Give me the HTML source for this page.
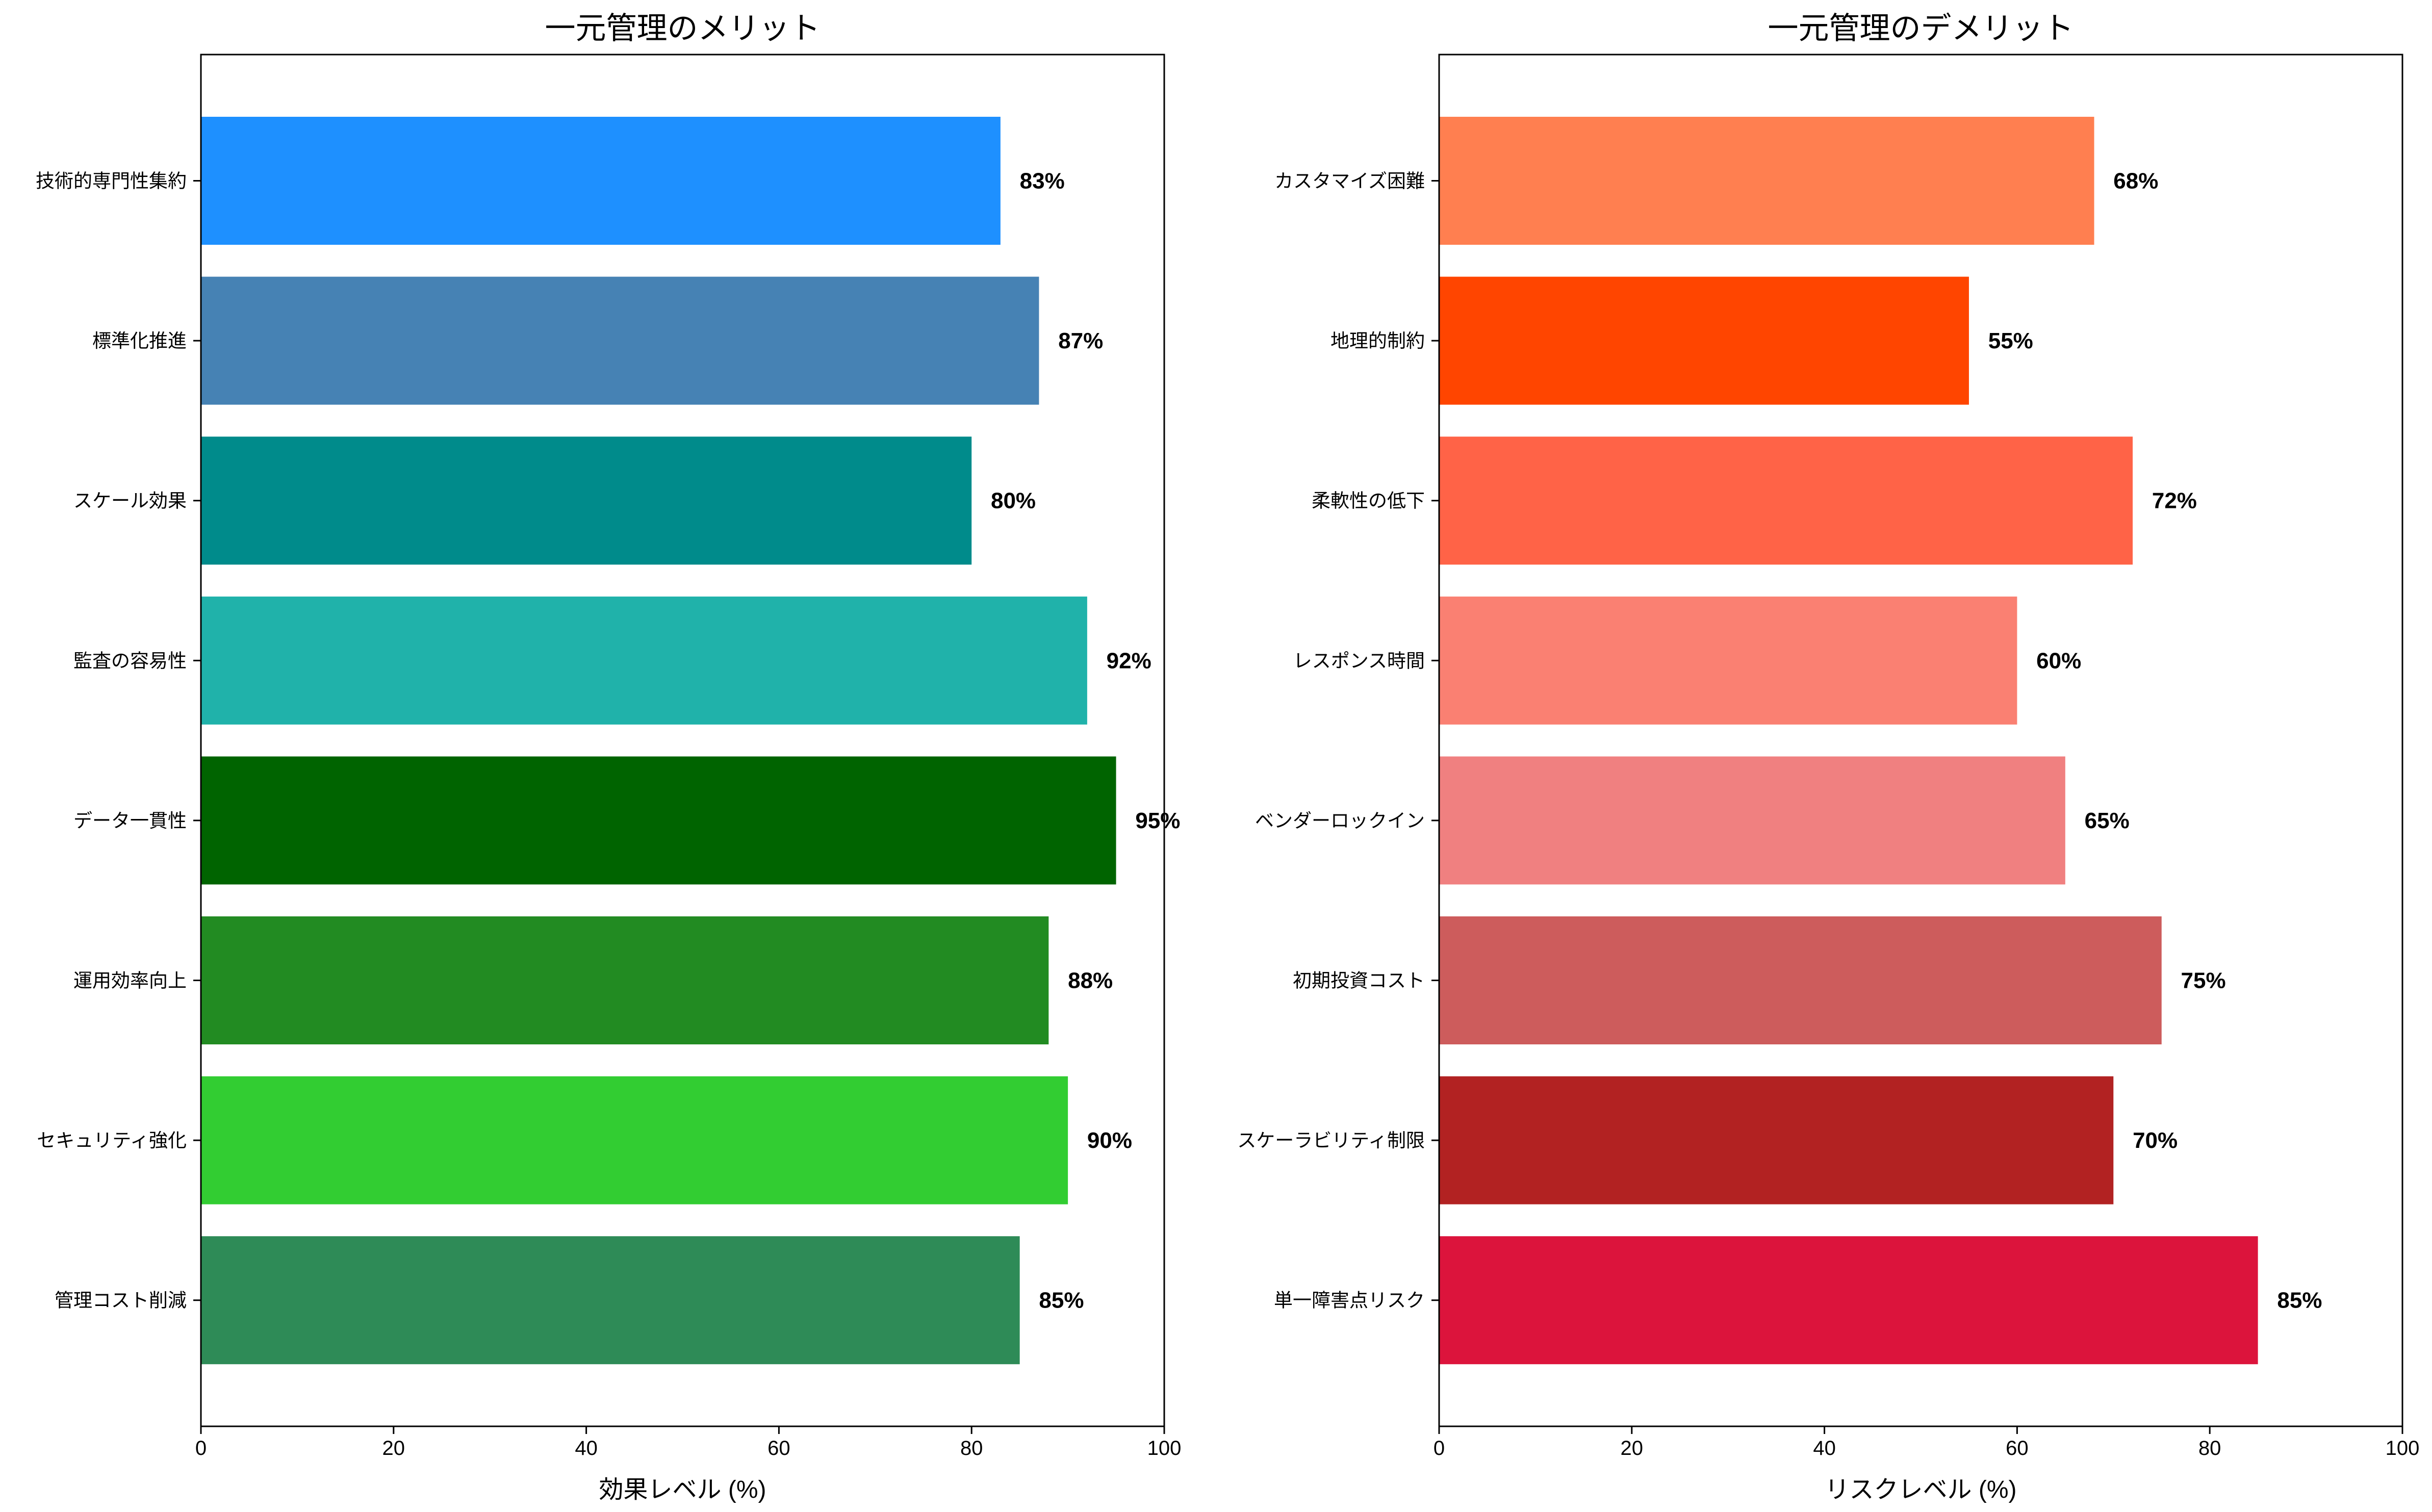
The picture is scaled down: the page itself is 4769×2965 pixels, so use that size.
<!DOCTYPE html>
<html><head><meta charset="utf-8"><style>
html,body{margin:0;padding:0;background:#fff;}
svg{display:block;font-family:"Liberation Sans","Noto Sans CJK JP",sans-serif;}
</style></head><body>
<svg id="chart" width="4769" height="2965" viewBox="0 0 4769 2965" xmlns="http://www.w3.org/2000/svg">
<rect width="4769" height="2965" fill="#fff"/>
<g id="left"></g>
<g id="right"></g>
</svg>
<script>
const meritCategories = ["管理コスト削減","セキュリティ強化","運用効率向上","データ一貫性","監査の容易性","スケール効果","標準化推進","技術的専門性集約"];
const meritValues = [85, 90, 88, 95, 92, 80, 87, 83];
const meritColors = ["#2e8b57","#32cd32","#228b22","#006400","#20b2aa","#008b8b","#4682b4","#1e90ff"];
const demeritCategories = ["単一障害点リスク","スケーラビリティ制限","初期投資コスト","ベンダーロックイン","レスポンス時間","柔軟性の低下","地理的制約","カスタマイズ困難"];
const demeritValues = [85, 70, 75, 65, 60, 72, 55, 68];
const demeritColors = ["#dc143c","#b22222","#cd5c5c","#f08080","#fa8072","#ff6347","#ff4500","#ff7f50"];
const xTicks = [0, 20, 40, 60, 80, 100];

const NS = "http://www.w3.org/2000/svg";
function mk(tag, attrs, parent, text){
  const e = document.createElementNS(NS, tag);
  for (const k in attrs) e.setAttribute(k, attrs[k]);
  if (text !== undefined) e.textContent = text;
  parent.appendChild(e);
  return e;
}
function panel(g, left, cats, vals, cols, title, xlabel){
  const top = 107, bottom = 2797, width = 1889, right = left + width;
  const xScale = v => left + v / 100 * width;
  const yTopCenter = 354.5, step = 313.6, barH = 251;
  const yScale = i => yTopCenter + (cats.length - 1 - i) * step;
  for (let i = 0; i < cats.length; i++){
    const cy = yScale(i);
    const r = mk("rect", {x: left, y: cy - barH/2, width: xScale(vals[i]) - left, height: barH, fill: cols[i]}, g);
    
    
    const vt = mk("text", {x: xScale(vals[i] + 2), y: cy + 15, "font-size": 44, "font-weight": "bold", fill: "#000"}, g, vals[i] + "%");
    
    
    const tk = mk("line", {x1: left - 15, x2: left, y1: cy, y2: cy, stroke: "#000", "stroke-width": 3}, g);
    
    
    const tl = mk("text", {x: left - 28, y: cy + 13, "font-size": 37, "text-anchor": "end", fill: "#000"}, g, cats[i]);
    
    
  }
  for (const t of xTicks){
    const x = xScale(t);
    const tk = mk("line", {x1: x, x2: x, y1: bottom, y2: bottom + 15, stroke: "#000", "stroke-width": 3}, g);
    
    
    const tl = mk("text", {x: x, y: bottom + 56, "font-size": 40, "text-anchor": "middle", fill: "#000"}, g, String(t));
    
    
  }
  const fr = mk("rect", {x: left, y: top, width: width, height: bottom - top, fill: "none", stroke: "#000", "stroke-width": 3}, g);
  
  
  const ti = mk("text", {x: left + width/2, y: 76, "font-size": 60, "text-anchor": "middle", fill: "#000"}, g, title);
  
  
  const xl = mk("text", {x: left + width/2, y: 2937, "font-size": 48, "text-anchor": "middle", fill: "#000"}, g, xlabel);
  
  
}
panel(document.getElementById("left"), 394, meritCategories, meritValues, meritColors, "一元管理のメリット", "効果レベル (%)");
panel(document.getElementById("right"), 2822, demeritCategories, demeritValues, demeritColors, "一元管理のデメリット", "リスクレベル (%)");
</script>
</body></html>
